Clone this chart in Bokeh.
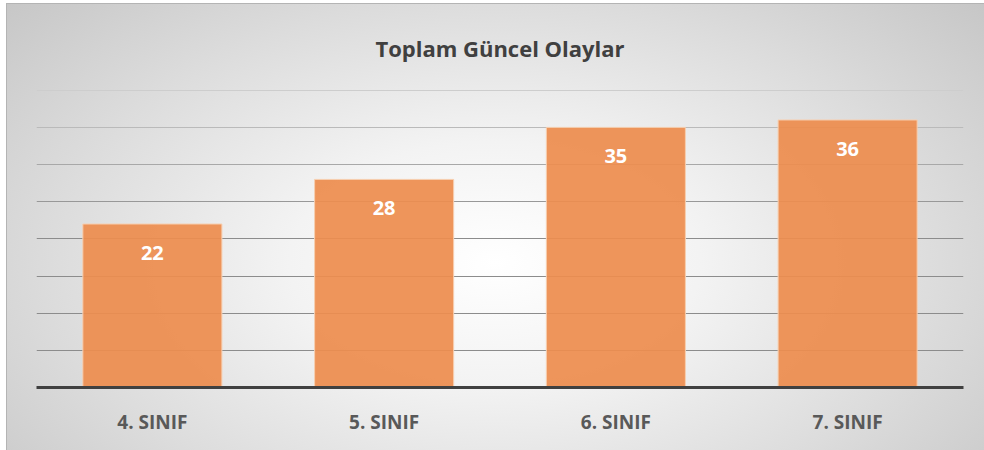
from bokeh.plotting import figure
from bokeh.models import ColumnDataSource, LabelSet, Range1d, FactorRange, Grid, FixedTicker
from bokeh.core.properties import value
from bokeh.embed import file_html
from bokeh.resources import INLINE

categories = ["4. SINIF", "5. SINIF", "6. SINIF", "7. SINIF"]
values = [22, 28, 35, 36]
grid_ticks = [5, 10, 15, 20, 25, 30, 35, 40]
title_text = "Toplam Güncel Olaylar"

FONT = "Open Sans"
Y_MAX = 40.1

src = ColumnDataSource(dict(cat=categories, val=values, lab=[str(v) for v in values]))

p = figure(width=978, height=447, x_range=FactorRange(*categories, range_padding=0),
           y_range=Range1d(0, Y_MAX), output_backend="svg", toolbar_location=None,
           min_border_left=30, min_border_right=21, min_border_bottom=63, min_border_top=86,
           title=title_text)

p.styles = {"background": "radial-gradient(ellipse 70% 90% at 50% 58%, #ffffff 0%, #f3f3f3 30%, #dcdcdc 65%, #c4c4c4 100%)",
            "box-shadow": "inset 1px 1px 0 #b4b4b4",
            "margin-left": "6px", "margin-top": "3px"}
p.background_fill_alpha = 0
p.border_fill_alpha = 0
p.outline_line_color = None

p.title.align = "center"
p.title.text_font = FONT
p.title.text_font_size = "22px"
p.title.text_font_style = "bold"
p.title.text_color = "#404040"
p.title.standoff = 53

p.xgrid.visible = False
p.ygrid.visible = False
p.yaxis.visible = False

# gridlines fading towards the top
def mix(t):
    a = (140, 140, 140)
    b = (205, 205, 205)
    return "#%02x%02x%02x" % tuple(int(a[i] + (b[i] - a[i]) * t) for i in range(3))

n = len(grid_ticks)
for i, t in enumerate(grid_ticks):
    frac = max(0.0, (i - 3) / (n - 4))
    g = Grid(dimension=1, ticker=FixedTicker(ticks=[t]), grid_line_color=mix(frac ** 1.2),
             grid_line_width=1.2)
    p.add_layout(g)

p.vbar(x="cat", top="val", width=0.6, source=src, fill_color="#ED8D4F", fill_alpha=0.93,
       line_color="#F7CFB0", line_width=1)

labels = LabelSet(x="cat", y="val", text="lab", source=src, y_offset=-29,
                  text_align="center", text_baseline="middle", text_color="white",
                  text_font=value(FONT), text_font_size=value("20px"), text_font_style="bold")
p.add_layout(labels)

ax = p.xaxis[0]
ax.axis_line_color = "#404040"
ax.axis_line_width = 3
ax.major_tick_line_color = None
ax.minor_tick_line_color = None
ax.major_label_text_font = FONT
ax.major_label_text_font_size = "19px"
ax.major_label_text_font_style = "bold"
ax.major_label_text_color = "#595959"
ax.major_label_standoff = 15

open("out.html", "w").write(file_html(p, INLINE))
